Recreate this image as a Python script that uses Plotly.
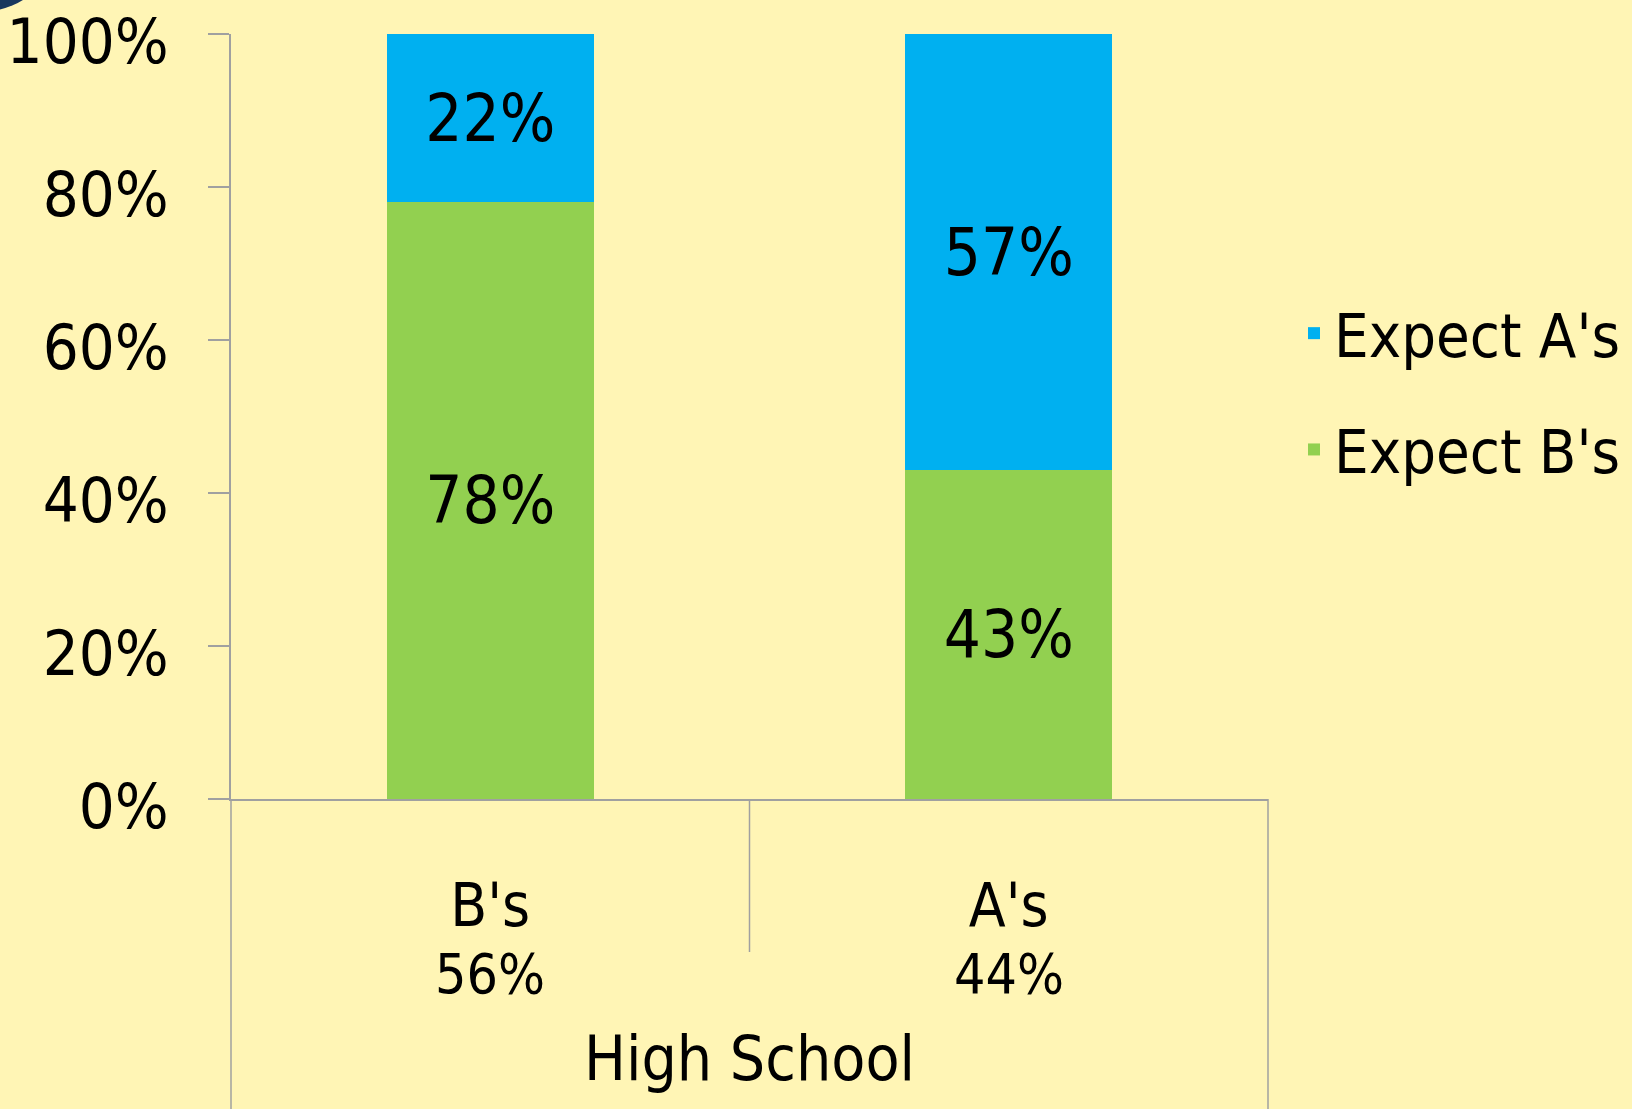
import plotly.graph_objects as go

categories = ["B's", "A's"]
category_shares = ["56%", "44%"]
expect_b = [78, 43]
expect_a = [22, 57]
series_names = ["Expect A's", "Expect B's"]
y_ticks = [0, 20, 40, 60, 80, 100]
y_tick_labels = ["0%", "20%", "40%", "60%", "80%", "100%"]
x_title = "High School"

W, H = 1632, 1109
L, R, T, B = 231, 1268, 34, 799
FONT = "DejaVu Sans Condensed, DejaVu Sans, sans-serif"
BG = "#FFF5B5"
AXIS = "#A0A0A0"

def px(x):
    return (x - L) / (R - L)

def py(y):
    return (B - y) / (B - T)

fig = go.Figure()
fig.add_trace(go.Bar(
    x=categories, y=expect_b, name=series_names[1], legendgroup="b", legendrank=2,
    marker=dict(color="#92D050", line=dict(width=0)),
    text=[f"{v}%" for v in expect_b], textposition="inside",
    insidetextanchor="middle", textfont=dict(size=65, color="black", family=FONT),
    width=0.4,
))
fig.add_trace(go.Bar(
    x=categories, y=expect_a, name=series_names[0], legendgroup="a", legendrank=1,
    marker=dict(color="#00B0F0", line=dict(width=0)),
    text=[f"{v}%" for v in expect_a], textposition="inside",
    insidetextanchor="middle", textfont=dict(size=65, color="black", family=FONT),
    width=0.4,
))

shapes = [
    dict(type="line", xref="paper", yref="paper", x0=0, x1=0, y0=py(H + 5), y1=0,
         line=dict(color=AXIS, width=1.5)),
    dict(type="line", xref="paper", yref="paper", x0=1, x1=1, y0=py(H + 5), y1=0,
         line=dict(color=AXIS, width=1.5)),
    dict(type="line", xref="paper", yref="paper", x0=0.5, x1=0.5, y0=py(952), y1=0,
         line=dict(color=AXIS, width=1.5)),
    dict(type="circle", xref="paper", yref="paper", x0=px(-86), x1=px(56), y0=py(-131), y1=py(11),
         fillcolor="#17375E", line=dict(width=0)),
]

annotations = []
for c, s in zip(categories, category_shares):
    annotations.append(dict(x=c, xref="x", y=py(974), yref="paper", text=s, showarrow=False,
                            font=dict(size=55, color="black", family=FONT), xanchor="center", yanchor="middle"))

fig.update_layout(
    width=W, height=H,
    barmode="stack",
    paper_bgcolor=BG, plot_bgcolor=BG,
    margin=dict(l=L, r=W - R, t=T, b=H - B, pad=0, autoexpand=False),
    font=dict(family=FONT, color="black"),
    xaxis=dict(
        range=[-0.5, 1.5], showgrid=False, zeroline=False,
        showline=True, linecolor=AXIS, linewidth=1.5, automargin=False,
        ticks="", tickvals=categories, ticktext=categories,
        tickfont=dict(size=60, family=FONT, color="black"),
        ticklabelstandoff=53,
        title=dict(text=x_title, font=dict(size=62, family=FONT, color="black"), standoff=98),
    ),
    yaxis=dict(
        range=[0, 100], showgrid=False, zeroline=False,
        showline=True, linecolor=AXIS, linewidth=1.5, automargin=False,
        tickvals=y_ticks, ticktext=y_tick_labels,
        ticks="outside", ticklen=21, tickcolor=AXIS, tickwidth=1.5,
        tickfont=dict(size=63, family=FONT, color="black"),
        ticklabelstandoff=27, ticklabelshift=7, ticklabeloverflow="allow",
    ),
    legend=dict(
        x=px(1294), y=py(287), xanchor="left", yanchor="top",
        font=dict(size=61, family=FONT, color="black"),
        bgcolor="rgba(0,0,0,0)", tracegroupgap=34, itemwidth=30,
        traceorder="grouped",
    ),
    shapes=shapes,
    annotations=annotations,
    showlegend=True,
)

fig.write_html("out.html", config={"displayModeBar": False},
               post_script="document.body.style.margin='0';")
